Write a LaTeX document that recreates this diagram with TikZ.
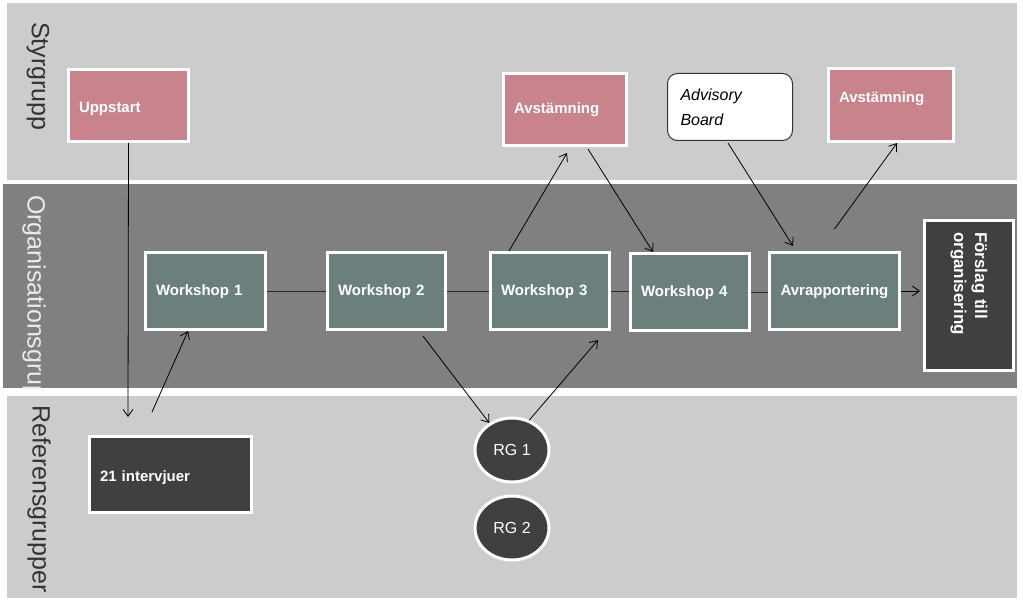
\documentclass[tikz,border=0pt]{standalone}
\usepackage{fontspec}
\setmainfont{Liberation Sans}
\usetikzlibrary{arrows.meta,shapes.geometric}
\definecolor{lanelight}{HTML}{CCCCCC}
\definecolor{lanedark}{HTML}{808080}
\definecolor{pinkbox}{HTML}{C8838C}
\definecolor{tealbox}{HTML}{6B807D}
\definecolor{darkbox}{HTML}{404040}
\definecolor{lanetext}{HTML}{333333}
\definecolor{linkgray}{HTML}{2A2A2A}
\begin{document}
\begin{tikzpicture}[x=1pt,y=-1pt,
  lanelab/.style={rotate=-90,anchor=west,inner sep=0pt,font=\fontsize{25}{28}\selectfont},
  box/.style={draw=white,line width=3pt,inner xsep=10.5pt,inner ysep=0pt,align=left,text=white,
              font=\bfseries\fontsize{15}{18}\selectfont},
  oneline/.style={text height=12pt,text depth=3pt},
  pinkb/.style={box,oneline,fill=pinkbox},
  tealb/.style={box,oneline,fill=tealbox,minimum height=77pt},
  darkb/.style={box,fill=darkbox},
  rg/.style={ellipse,draw=white,line width=3pt,fill=darkbox,minimum width=74pt,minimum height=64pt,
             inner sep=0pt,text=white,font=\fontsize{16}{19}\selectfont},
  arr/.style={-{Straight Barb[length=7pt,width=10pt]},line width=0.8pt,black},
  link/.style={line width=1pt,linkgray}]
\useasboundingbox (0,0) rectangle (1023,615);
\fill[white] (0,0) rectangle (1023,615);
% lanes
\fill[lanelight] (7,3) rectangle (1017,180);
\fill[lanedark] (3,184) rectangle (1017,388);
\fill[lanelight] (7,396) rectangle (1017,598);
% lane labels
\node[lanelab,text=lanetext] (lstyr) at (38,22) {Styrgrupp};
\begin{scope}
\clip (3,184) rectangle (1017,388);
\node[lanelab,text=white!92!black] (lorg) at (34,195) {Organisationsgrupp};
\end{scope}
\node[lanelab,text=lanetext] (lref) at (39,405) {Referensgrupper};
% Styrgrupp nodes
\node[pinkb,text width=99pt,minimum height=72pt] (upp) at (128.5,105.5) {\raisebox{-3pt}{Uppstart}};
\node[pinkb,text width=102pt,minimum height=72pt] (av1) at (565,109.5) {Avstämning};
\node[draw=black!80,line width=1pt,fill=white,rounded corners=10pt,minimum height=67pt,
      text width=99pt,inner xsep=13pt,inner ysep=0pt,align=left,
      font=\itshape\fontsize{16}{25}\selectfont] (adv) at (730,107) {Advisory\\Board};
\node[pinkb,text width=104pt,minimum height=73pt] (av2) at (891,105) {\raisebox{7pt}{Avstämning}};
% Organisationsgrupp nodes
\node[tealb,text width=99pt] (ws1) at (205.5,291) {Workshop 1};
\node[tealb,text width=97pt] (ws2) at (386.5,291) {Workshop 2};
\node[tealb,text width=98pt] (ws3) at (550,291) {Workshop 3};
\node[tealb,text width=98pt] (ws4) at (690,292) {Workshop 4};
\node[tealb,text width=109pt,align=center] (avr) at (834.5,291) {Avrapportering};
\node[darkb,rotate=-90,text width=127pt,inner xsep=11.5pt,minimum height=89pt,
      font=\bfseries\fontsize{17}{21}\selectfont] (fs) at (969,295.5) {Förslag till\\organisering};
% Referensgrupper nodes
\node[darkb,oneline,text width=141pt,minimum height=76pt] (int) at (170.5,474.5) {\raisebox{-2pt}{21 intervjuer}};
\node[rg] (rg1) at (512,450) {RG 1};
\node[rg] (rg2) at (512,528) {RG 2};
% free ends
\coordinate (c1) at (128,417);
\coordinate (c2) at (152,412);
% connectors
\draw[arr] (upp.south) -- (c1);
\draw[arr] (c2) -- ([xshift=-17.5pt]ws1.south);
\draw[link] (ws1.east) -- (ws2.west);
\draw[link] (ws2.east) -- (ws3.west);
\draw[link] (ws3.east) -- (ws3.east -| ws4.west);
\draw[link] (ws4.east) -- (ws4.east -| avr.west);
\draw[arr,shorten >=3pt] (avr.east) -- (avr.east -| fs.south);
\draw[arr] ([xshift=-41pt]ws3.north) -- ([xshift=2pt,yshift=-6pt]av1.south);
\draw[arr] ([xshift=23pt,yshift=-2pt]av1.south) -- ([xshift=-37pt]ws4.north);
\draw[arr] ([xshift=-2pt,yshift=-2pt]adv.south) -- ([xshift=-41.5pt,yshift=5pt]avr.north);
\draw[arr] ([yshift=22pt]avr.north) -- ([xshift=6pt]av2.south);
\draw[arr] ([xshift=36.5pt,yshift=-5pt]ws2.south) -- (rg1.130);
\draw[arr] (rg1.60) -- ([xshift=48pt,yshift=-9pt]ws3.south);
\end{tikzpicture}
\end{document}
